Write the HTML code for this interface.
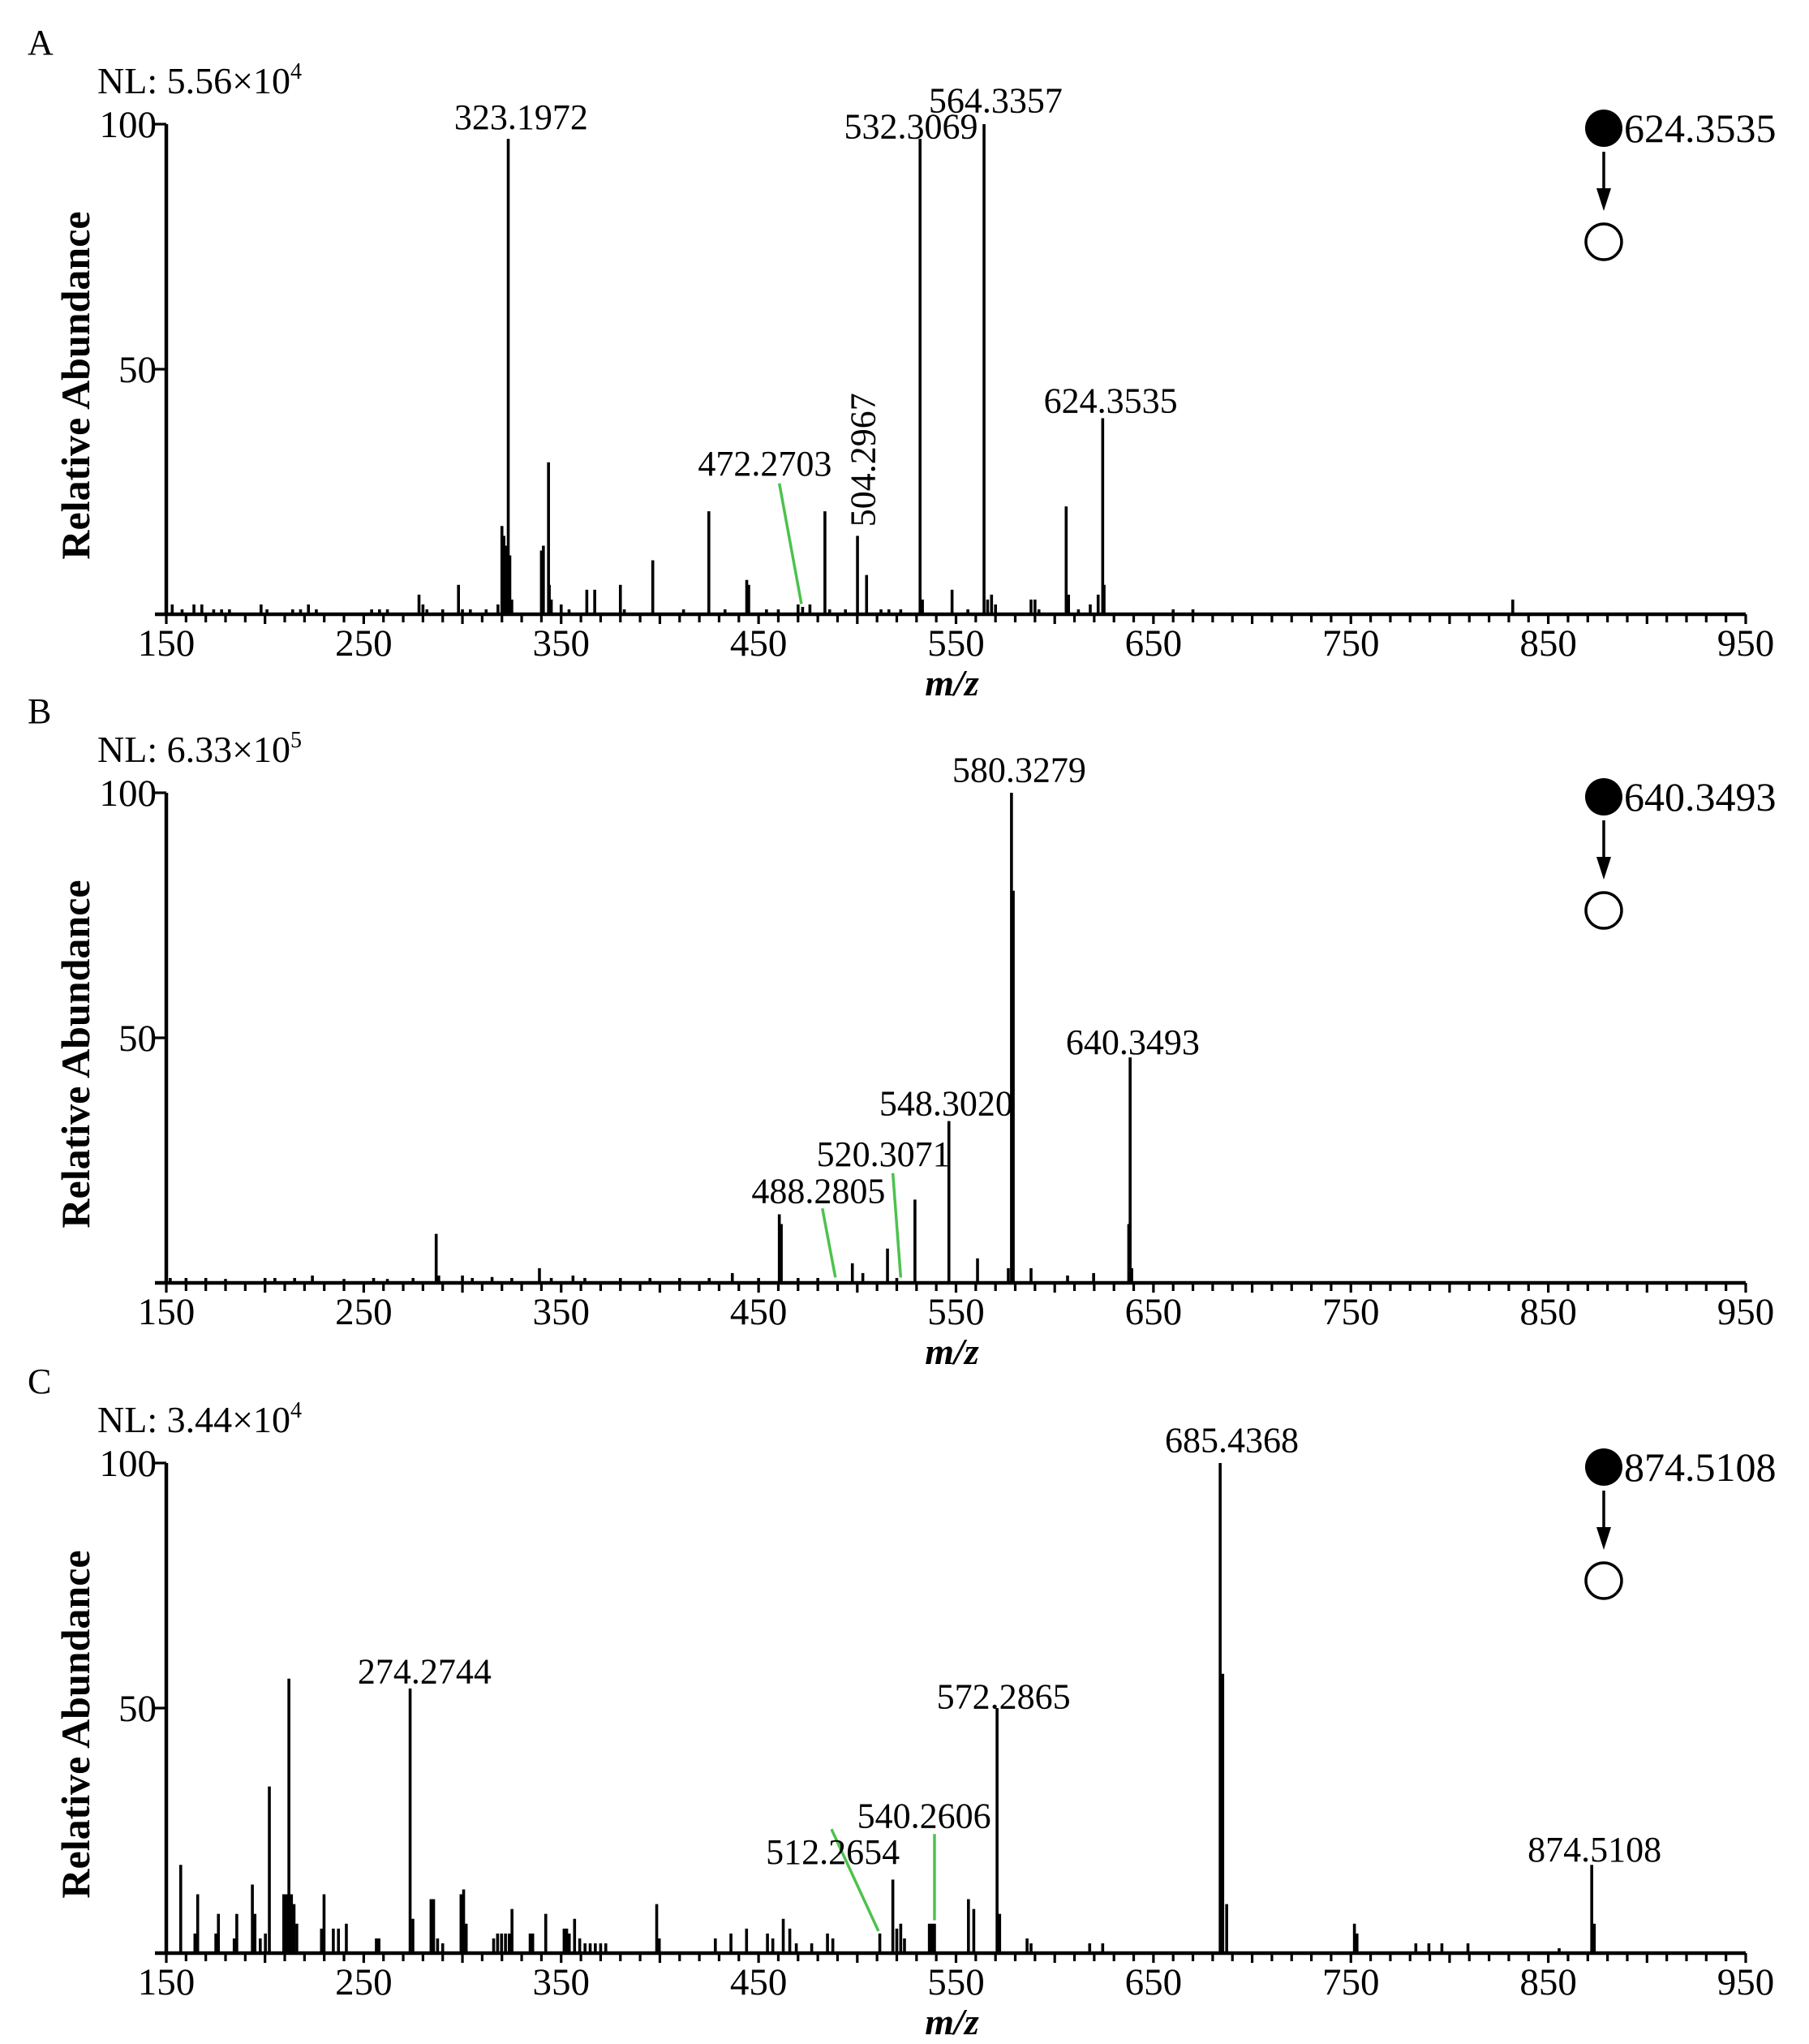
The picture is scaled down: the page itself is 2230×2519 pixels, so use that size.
<!DOCTYPE html>
<html><head><meta charset="utf-8"><style>
html,body{margin:0;padding:0;background:#fff}
svg{display:block;font-family:"Liberation Serif",serif}
</style></head><body>
<svg id="chart" width="2230" height="2519" viewBox="0 0 2230 2519" xmlns="http://www.w3.org/2000/svg"></svg>
<script>
// ---- Data ----
const xTicks = [150,250,350,450,550,650,750,850,950];
const yTicks = [50,100];
const panelLetters = ["A","B","C"];
const nlMantissa = ["5.56","6.33","3.44"];
const nlExp = ["4","5","4"];
const precursors = ["624.3535","640.3493","874.5108"];

const mzA = [153,158,164,168,174,178,182,198,201,214,218,222,226,254,258,262,278,280,282,290,298,300,304,312,318,320,321,322,323.2,324,325,340,341,343.6,344,345,350,354,363,367,380,382,396.4,412,424.8,433,444,445,454,460,470,472.3,476,483.6,486,494,500.1,504.7,512,516,522,531.8,533,548,556,564.2,566,568,570,588,590,592,605.8,607,612,618,622,624.3,625,660,670,832];
const pctA = [2,1,2,2,1,1,1,2,1,1,1,2,1,1,1,1,4,2,1,1,6,1,1,1,2,18,16,14,97,12,3,13,14,31,6,3,2,1,5,5,6,1,11,1,21,1,7,6,1,1,2,1.5,2,21,1,1,16,8,1,1,1,97,3,5,1,100,3,4,2,3,3,1,22,4,1,2,4,40,6,1,1,3];

const mzB = [152,160,170,180,200,205,215,224,240,255,262,275,286.7,288,300,305,315,325,339,345,356,362,380,395,410,425,436.7,450,460.5,461.5,470,480,497.5,502.8,515.3,520,529.2,546.4,560.9,576.5,578.1,579,588,606.5,619.7,637.5,638.2,639];
const pctB = [1,1,1,0.8,1,1,1,1.5,0.8,1,0.8,1,10,1.5,1.5,1,1.2,1,3,1,1.5,1,1,1,1,1,2,1,14,12,1,1,4,2,7,1,17,33,5,3,100,80,3,1.5,2,12,46,3];

const mzC = [157.3,164.5,165.9,175.1,176.4,184.4,185.7,193.6,194.9,197.6,200.2,202.2,209.5,210.8,212.1,213.4,214.7,216.1,228.6,229.9,234.6,237.2,241.2,256.4,257.7,273.5,274.9,284.1,285.4,287.4,290.0,299.3,300.6,301.9,315.8,317.8,319.8,321.8,323.7,325.1,334.3,335.6,342.2,351.5,352.8,354.1,356.8,359.4,362.1,364.7,367.3,370.0,372.6,398.4,399.7,428.1,436.0,443.9,454.5,457.2,462.5,465.8,469.1,476.9,484.9,487.6,511.4,518.0,520.0,522.0,523.9,536.5,537.8,539.1,556.3,559.0,570.8,572.1,586.0,588.0,617.7,624.3,683.8,685.1,687.1,751.8,753.1,782.9,789.5,796.1,809.3,855.5,872.0,873.3];
const pctC = [18,4,12,4,8,3,8,14,8,3,4,34,12,12,56,12,10,6,5,12,5,5,6,3,3,54,7,11,11,3,2,12,13,6,3,4,4,4,4,9,4,4,8,5,5,4,7,3,2,2,2,2,2,10,3,3,4,5,4,3,7,5,2,2,4,3,4,15,5,6,3,6,6,6,11,9,50,8,3,2,2,2,100,57,10,6,4,2,2,2,2,1,18,6];

const labelTextA = ["323.1972","532.3069","564.3357","624.3535","472.2703"];
const labelMzA = [329.7,527.2,570.1,628.3,453.2];
const labelPctA = [101.5,99.6,104.9,43.6,30.8];
const rotLabelA = {text:"504.2967", mz:502.8, pct:31.5};
const labelTextB = ["580.3279","640.3493","548.3020","520.3071","488.2805"];
const labelMzB = [582.0,639.5,545.0,513.3,480.3];
const labelPctB = [104.7,49.2,36.7,26.3,18.8];
const labelTextC = ["685.4368","274.2744","572.2865","540.2606","512.2654","874.5108"];
const labelMzC = [689.7,280.8,574.1,533.8,487.6,873.4];
const labelPctC = [104.7,57.5,52.4,28.1,20.7,21.2];

const leaderA = [[460.5,26.7,471.7,2.1]];
const leaderB = [[482.3,15.2,488.9,1.1],[518.0,22.4,522.0,1.1]];
const leaderC = [[486.9,25.3,510.7,4.5],[539.1,24.3,539.1,6.7]];

// ---- Drawing ----
const svg = document.getElementById('chart');
const NS = 'http://www.w3.org/2000/svg';
const X0 = 205, X1 = 2152, H = 604;
const baseYs = [757,1581,2407];
function xs(mz){ return X0 + (mz-150)/800*(X1-X0); }
function make(tag, attrs, parent){
  const e = document.createElementNS(NS, tag);
  for (const k in attrs) e.setAttribute(k, attrs[k]);
  (parent||svg).appendChild(e);
  return e;
}
const mzs=[mzA,mzB,mzC], pcts=[pctA,pctB,pctC];
const lt=[labelTextA,labelTextB,labelTextC], lm=[labelMzA,labelMzB,labelMzC], lp=[labelPctA,labelPctB,labelPctC];
const leaders=[leaderA,leaderB,leaderC];

for (let p=0;p<3;p++){
  const base = baseYs[p];
  const ys = v => base - v/100*H;
  const g = make('g',{});
  
  

  const letter = make('text',{x:34,y:base-690,'font-size':44},g);
  letter.textContent = panelLetters[p];
  
  

  const nl = make('text',{x:120,y:base-642,'font-size':46},g);
  
  
  const t1 = make('tspan',{},nl); t1.textContent = 'NL: '+nlMantissa[p]+'×10';
  const t2 = make('tspan',{'font-size':28,dy:-18},nl); t2.textContent = nlExp[p];

  const pk = make('g',{stroke:'#000','stroke-width':3.6},g);
  
  
  for (let i=0;i<mzs[p].length;i++){
    const x = xs(mzs[p][i]);
    const l = make('line',{x1:x,x2:x,y1:base,y2:ys(pcts[p][i])},pk);
    
    
  }

  const ya = make('line',{x1:X0,x2:X0,y1:base,y2:base-H,stroke:'#000','stroke-width':4.5},g);
  
  
  const xa = make('line',{x1:X0-14,x2:X1,y1:base,y2:base,stroke:'#000','stroke-width':4.5},g);
  
  
  for (let m=150;m<=950;m+=10){
    const x=xs(m);
    make('line',{x1:x,x2:x,y1:base,y2:base+(m%50===0?12:10),stroke:'#000','stroke-width':3.2},g);
  }
  xTicks.forEach(v=>{
    const t = make('text',{x:xs(v),y:base+51,'font-size':47,'text-anchor':'middle'},g);
    t.textContent = v;
    
    
  });
  yTicks.forEach(v=>{
    make('line',{x1:X0-14,x2:X0,y1:ys(v),y2:ys(v),stroke:'#000','stroke-width':3.2},g);
    const t = make('text',{x:X0-12,y:ys(v)+16,'font-size':47,'text-anchor':'end'},g);
    t.textContent = v;
    
    
  });
  const xt = make('text',{x:(X0+X1)/2-5,y:base+100,'font-size':46,'font-weight':'bold','font-style':'italic','text-anchor':'middle'},g);
  xt.textContent='m/z';
  
  
  const yt = make('text',{x:0,y:0,'font-size':50,'font-weight':'bold','text-anchor':'middle',transform:'translate(110,'+(base-282)+') rotate(-90)'},g);
  yt.textContent='Relative Abundance';
  
  

  leaders[p].forEach(d=>{
    const l = make('line',{x1:xs(d[0]),y1:ys(d[1]),x2:xs(d[2]),y2:ys(d[3]),stroke:'#4cc24c','stroke-width':3.5},g);
    
    
  });
  for (let i=0;i<lt[p].length;i++){
    const t = make('text',{x:xs(lm[p][i]),y:ys(lp[p][i])+15,'font-size':44,'text-anchor':'middle'},g);
    t.textContent = lt[p][i];
    
    
  }
  if (p===0){
    const x=xs(rotLabelA.mz), y=ys(rotLabelA.pct);
    const t = make('text',{x:0,y:0,'font-size':44,'text-anchor':'middle',transform:'translate('+(x+15)+','+y+') rotate(-90)'},g);
    t.textContent = rotLabelA.text;
    
    
  }

  const lg = make('g',{},g);
  
  
  make('circle',{cx:1977,cy:base-599,r:23,fill:'#000'},lg);
  const pt = make('text',{x:2002,y:base-582,'font-size':50},lg);
  pt.textContent = precursors[p];
  make('line',{x1:1977,y1:base-570,x2:1977,y2:base-520,stroke:'#000','stroke-width':3.5},lg);
  make('polygon',{points:'1968,'+(base-525)+' 1986,'+(base-525)+' 1977,'+(base-497),fill:'#000'},lg);
  make('circle',{cx:1977,cy:base-459,r:22,fill:'#fff',stroke:'#000','stroke-width':3.5},lg);
}
</script>
</body></html>
